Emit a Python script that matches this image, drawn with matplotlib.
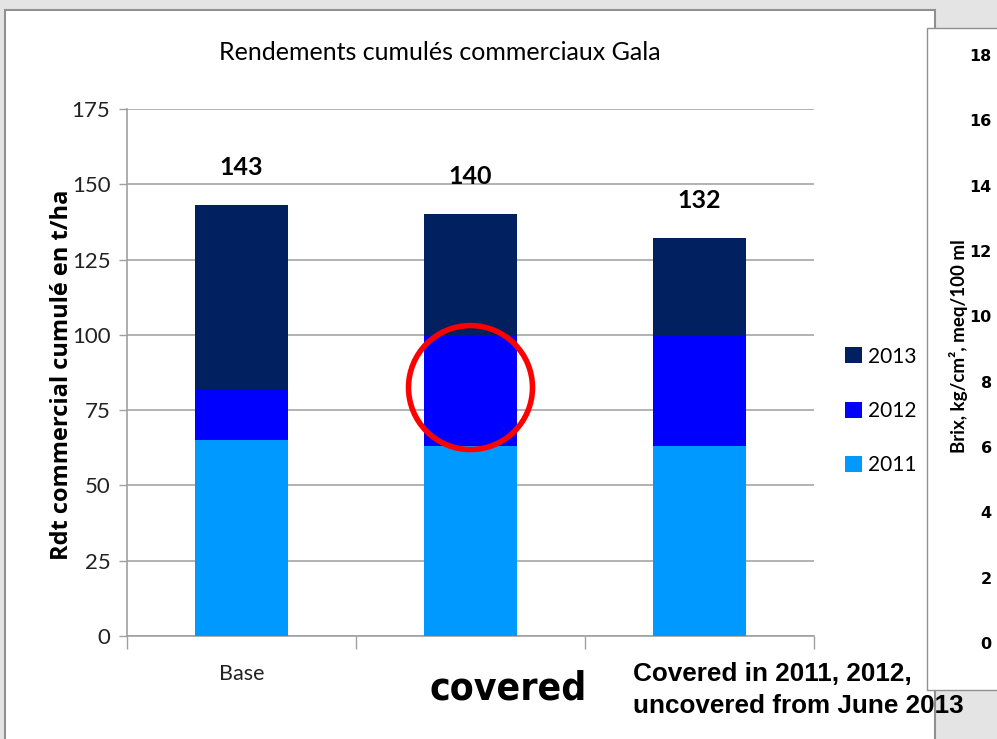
import matplotlib.pyplot as plt
from matplotlib.patches import Rectangle, Ellipse

# data
categories = ["Base", "covered", "Covered in 2011, 2012,\nuncovered from June 2013"]
years = ["2011", "2012", "2013"]
y2011 = [65, 63, 63]
y2012 = [17, 37, 37]
y2013 = [61, 40, 32]
totals = [143, 140, 132]
colors = ["#0099ff", "#0000ff", "#002060"]
right_ticks = [0, 2, 4, 6, 8, 10, 12, 14, 16, 18]

calib = ["Lato", "DejaVu Sans"]
arial = ["Liberation Sans", "DejaVu Sans"]

W, H = 997, 739
fig = plt.figure(figsize=(W / 100, H / 100), dpi=100)
fig.patch.set_facecolor("#e4e4e4")

def px(x0, y0, x1, y1):
    return [x0 / W, 1 - y1 / H, (x1 - x0) / W, (y1 - y0) / H]

# white panels
b = px(5, 10, 935, 745)
fig.add_artist(Rectangle((b[0], b[1]), b[2], b[3], transform=fig.transFigure,
                         facecolor="white", edgecolor="#909090", lw=1.5, zorder=-2))
b = px(927, 28, 1010, 690)
fig.add_artist(Rectangle((b[0], b[1]), b[2], b[3], transform=fig.transFigure,
                         facecolor="white", edgecolor="#909090", lw=1.0, zorder=-1))

ax = fig.add_axes(px(127, 109, 814, 636))
ax.set_facecolor("none")
x = range(len(categories))
bottom2 = [a for a in y2011]
bottom3 = [a + c for a, c in zip(y2011, y2012)]
ax.bar(x, y2011, width=0.41, color=colors[0], label=years[0], zorder=3)
ax.bar(x, y2012, width=0.41, bottom=bottom2, color=colors[1], label=years[1], zorder=3)
ax.bar(x, y2013, width=0.41, bottom=bottom3, color=colors[2], label=years[2], zorder=3)

for i, t in enumerate(totals):
    ax.text(i, t + 12.5, str(t), ha="center", va="center", fontsize=18,
            fontweight="bold", family=calib)

ax.set_xlim(-0.5, 2.5)
ax.set_ylim(0, 175)
ax.set_yticks(range(0, 176, 25))
ax.yaxis.grid(True, color="#a6a6a6", lw=1.2, zorder=0)
ax.set_xticks([-0.5, 0.5, 1.5, 2.5])
ax.set_xticklabels([])
ax.tick_params(axis="x", length=9, color="#a0a0a0", width=1)
ax.tick_params(axis="y", length=6, color="#a0a0a0", width=1, pad=6)
for lab in ax.get_yticklabels():
    lab.set_family(calib)
    lab.set_fontsize(16)
    lab.set_color("#222222")
for s in ["top", "right"]:
    ax.spines[s].set_visible(False)
for s in ["left", "bottom"]:
    ax.spines[s].set_color("#a0a0a0")
    ax.spines[s].set_linewidth(1.2)

ax.text(0, -12.5, categories[0], ha="center", va="center", fontsize=15.5,
        family=calib, color="#222222")
fig.text(508 / W, 1 - 688 / H, categories[1], ha="center", va="center",
         fontsize=28, fontweight="bold", family=["DejaVu Sans"], stretch="condensed")
fig.text(633 / W, 1 - 690 / H, categories[2], ha="left", va="center",
         fontsize=18.8, fontweight="bold", family=arial, linespacing=1.4)

ax.set_ylabel("Rdt commercial cumulé en t/ha", fontsize=17, fontweight="bold",
              family=["Open Sans", "DejaVu Sans"])
ax.yaxis.set_label_coords((74 - 127) / 687, 0.495)
fig.text(440 / W, 1 - 52 / H, "Rendements cumulés commerciaux Gala", ha="center",
         va="center", fontsize=18, family=calib)

h, l = ax.get_legend_handles_labels()
leg = ax.legend(h[::-1], l[::-1], loc="center left", bbox_to_anchor=(845 / W, 1 - 411 / H),
                bbox_transform=fig.transFigure, frameon=False, labelspacing=1.65,
                handlelength=0.8, handleheight=0.8, handletextpad=0.3, borderpad=0,
                borderaxespad=0, prop={"family": calib, "size": 15})

ax.add_patch(Ellipse((1, 82.5), 124 / 229, 124 / 3.011, facecolor="none",
                     edgecolor="#ff0000", lw=4, zorder=5))

# partial second chart at the right
ax2 = fig.add_axes(px(996, 55, 1000, 643))
ax2.set_ylim(0, 18)
ax2.set_yticks(right_ticks)
ax2.set_yticklabels([str(v) for v in right_ticks], fontsize=11.5, fontweight="bold")
ax2.set_xticks([])
ax2.tick_params(axis="y", length=0, pad=3)
for s in ax2.spines.values():
    s.set_visible(False)
ax2.patch.set_visible(False)
fig.text(958 / W, 1 - 346 / H, "Brix, kg/cm², meq/100 ml", rotation=90, ha="center",
         va="center", fontsize=13.5, fontweight="bold", family=calib)

fig.savefig("out.png", dpi=100)
